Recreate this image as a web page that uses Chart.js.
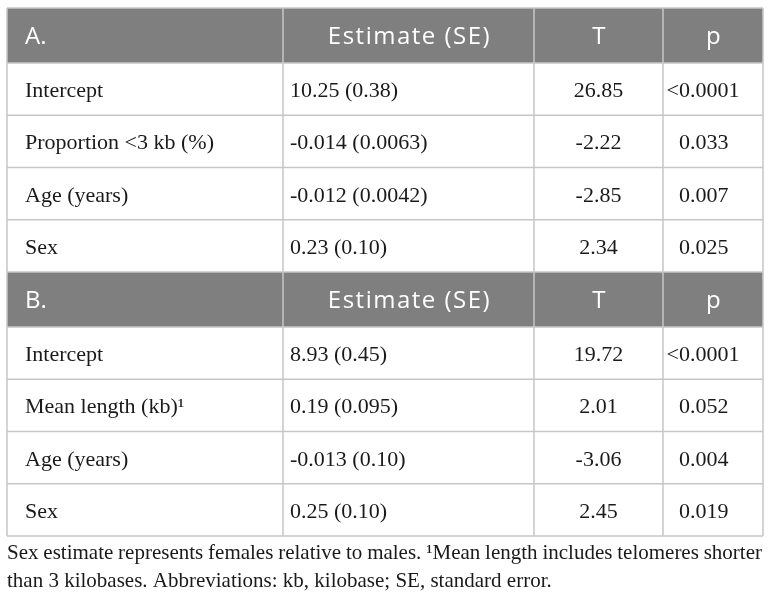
<!DOCTYPE html>
<html>
<head>
<title>Regression estimates</title>
<script src="https://cdn.jsdelivr.net/npm/chart.js@4.4.0/dist/chart.umd.min.js"></script>
<style>
    body { margin: 0; background: #ffffff; }
    #wrap { width: 772px; height: 600px; }
</style>
</head>
<body>
<div id="wrap"><canvas id="tableChart" width="772" height="600"></canvas></div>
<script>
    // table contents
    const partLabels = ['A.', 'B.'];
    const columnHeaders = ['Estimate (SE)', 'T', 'p'];

    const termsA = ['Intercept', 'Proportion <3 kb (%)', 'Age (years)', 'Sex'];
    const estimatesA = ['10.25 (0.38)', '-0.014 (0.0063)', '-0.012 (0.0042)', '0.23 (0.10)'];
    const tValuesA = ['26.85', '-2.22', '-2.85', '2.34'];
    const pValuesA = ['<0.0001', '0.033', '0.007', '0.025'];

    const termsB = ['Intercept', 'Mean length (kb)\u00B9', 'Age (years)', 'Sex'];
    const estimatesB = ['8.93 (0.45)', '0.19 (0.095)', '-0.013 (0.10)', '0.25 (0.10)'];
    const tValuesB = ['19.72', '2.01', '-3.06', '2.45'];
    const pValuesB = ['<0.0001', '0.052', '0.004', '0.019'];

    const footnoteLines = [
        'Sex estimate represents females relative to males. \u00B9Mean length includes telomeres shorter',
        'than 3 kilobases. Abbreviations: kb, kilobase; SE, standard error.'
    ];

    // layout (in table units, mapped through the chart scales)
    const colEdges = [0, 276, 527, 656, 756];
    const headerH = 55;
    const rowH = 52.25;

    const sections = [
        { label: partLabels[0], terms: termsA, est: estimatesA, t: tValuesA, p: pValuesA },
        { label: partLabels[1], terms: termsB, est: estimatesB, t: tValuesB, p: pValuesB }
    ];

    // top edge of every row, header rows included
    const rows = [];
    let yPos = 0;
    sections.forEach(s => {
        rows.push({ top: yPos, bottom: yPos + headerH, header: true, section: s });
        yPos += headerH;
        s.terms.forEach((term, i) => {
            rows.push({ top: yPos, bottom: yPos + rowH, header: false, cells: [term, s.est[i], s.t[i], s.p[i]] });
            yPos += rowH;
        });
    });
    const tableH = yPos;

    const headerFont = '24px "Open Sans"';
    const bodyFont = '22px "Liberation Serif"';
    const noteFont = '21px "Liberation Serif"';

    const tablePlugin = {
        id: 'tablePlugin',
        afterDraw(chart) {
            const ctx = chart.ctx;
            const xs = chart.scales.x;
            const ys = chart.scales.y;
            const px = v => xs.getPixelForValue(v);
            const py = v => ys.getPixelForValue(v);
            ctx.save();

            // header backgrounds
            rows.filter(r => r.header).forEach(r => {
                ctx.fillStyle = '#7f7f7f';
                ctx.fillRect(px(0), py(r.top), px(colEdges[4]) - px(0), py(r.bottom) - py(r.top));
            });

            // grid lines
            ctx.strokeStyle = '#c6c6c6';
            ctx.lineWidth = 1.5;
            rows.forEach(r => {
                ctx.beginPath();
                ctx.moveTo(px(0), py(r.top));
                ctx.lineTo(px(colEdges[4]), py(r.top));
                ctx.stroke();
            });
            colEdges.forEach(c => {
                ctx.beginPath();
                ctx.moveTo(px(c), py(0));
                ctx.lineTo(px(c), py(tableH));
                ctx.stroke();
            });
            ctx.beginPath();
            ctx.moveTo(px(0), py(tableH));
            ctx.lineTo(px(colEdges[4]), py(tableH));
            ctx.stroke();

            // text
            rows.forEach(r => {
                const mid = (py(r.top) + py(r.bottom)) / 2;
                ctx.textBaseline = 'alphabetic';
                if (r.header) {
                    ctx.font = headerFont;
                    ctx.fillStyle = '#ffffff';
                    ctx.letterSpacing = '0px';
                    ctx.textAlign = 'left';
                    ctx.fillText(r.section.label, px(colEdges[0]) + 18, mid + 8);
                    ctx.letterSpacing = '1.5px';
                    ctx.textAlign = 'center';
                    columnHeaders.forEach((h, i) => {
                        ctx.fillText(h, (px(colEdges[i + 1]) + px(colEdges[i + 2])) / 2 + 1, mid + 8);
                    });
                    ctx.letterSpacing = '0px';
                } else {
                    ctx.font = bodyFont;
                    ctx.fillStyle = '#1a1a1a';
                    const base = mid + 8;
                    ctx.textAlign = 'left';
                    ctx.fillText(r.cells[0], px(colEdges[0]) + 18, base);
                    ctx.fillText(r.cells[1], px(colEdges[1]) + 7, base);
                    ctx.textAlign = 'center';
                    ctx.fillText(r.cells[2], (px(colEdges[2]) + px(colEdges[3])) / 2, base);
                    ctx.textAlign = 'left';
                    let pText = r.cells[3];
                    let pX = px(colEdges[3]) + 16;
                    if (pText.startsWith('<')) pX -= ctx.measureText('<').width;
                    ctx.fillText(pText, pX, base);
                }
            });

            // footnote, first line justified
            ctx.font = noteFont;
            ctx.fillStyle = '#1a1a1a';
            ctx.textAlign = 'left';
            const left = px(0);
            const right = px(colEdges[4]) - 1;
            const noteTop = py(tableH);
            footnoteLines.forEach((line, li) => {
                const base = noteTop + 23 + li * 28;
                if (li < footnoteLines.length - 1) {
                    const words = line.split(' ');
                    const total = words.reduce((s, w) => s + ctx.measureText(w).width, 0);
                    const gap = (right - left - total) / (words.length - 1);
                    let x = left;
                    words.forEach(w => {
                        ctx.fillText(w, x, base);
                        x += ctx.measureText(w).width + gap;
                    });
                } else {
                    ctx.fillText(line, left, base);
                }
            });
            ctx.restore();
        }
    };

    const ctx = document.getElementById('tableChart').getContext('2d');
    const tableChart = new Chart(ctx, {
        type: 'scatter',
        data: { datasets: [] },
        options: {
            responsive: false,
            animation: false,
            layout: { padding: { left: 7, right: 9, top: 8, bottom: 64 } },
            plugins: { legend: { display: false }, tooltip: { enabled: false } },
            scales: {
                x: { type: 'linear', min: 0, max: colEdges[4], display: false },
                y: { type: 'linear', min: 0, max: tableH, reverse: true, display: false }
            }
        },
        plugins: [tablePlugin]
    });
</script>
</body>
</html>
